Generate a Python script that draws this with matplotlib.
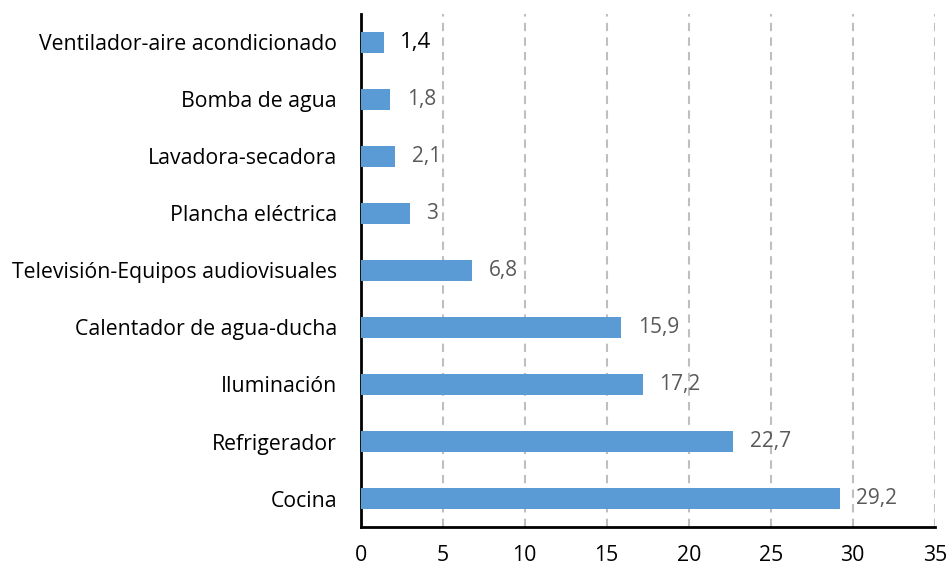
import matplotlib.pyplot as plt

plt.rcParams['font.family'] = ['Open Sans', 'DejaVu Sans']

categorias = ['Cocina', 'Refrigerador', 'Iluminación', 'Calentador de agua-ducha',
              'Televisión-Equipos audiovisuales', 'Plancha eléctrica',
              'Lavadora-secadora', 'Bomba de agua', 'Ventilador-aire acondicionado']
valores = [29.2, 22.7, 17.2, 15.9, 6.8, 3, 2.1, 1.8, 1.4]
ticks_x = [0, 5, 10, 15, 20, 25, 30, 35]

fig = plt.figure(figsize=(9.49, 5.67), dpi=100)
ax = fig.add_axes([0.380, 0.0705, 0.605, 0.905])

pos = range(len(categorias))
ax.barh(pos, valores, height=0.36, color='#5B9BD5', zorder=3)

for i, v in enumerate(valores):
    txt = f'{v:g}'.replace('.', ',')
    ultimo = i == len(valores) - 1
    ax.annotate(txt, (v, i), xytext=(12, 0), textcoords='offset points',
                va='center', ha='left', fontsize=16 if ultimo else 15,
                color='#000000' if ultimo else '#595959')

ax.set_xlim(0, 35)
ax.set_ylim(-0.5, len(categorias) - 0.5)
ax.set_xticks(ticks_x)
ax.set_yticks(list(pos))
ax.set_yticklabels(categorias)
ax.tick_params(axis='both', length=0, labelsize=15.3, colors='#000000')
ax.tick_params(axis='y', pad=17)
ax.tick_params(axis='x', pad=13)

ax.xaxis.grid(True, linestyle=(0, (4, 3)), color='#BFBFBF', linewidth=1.5, zorder=0)
ax.set_axisbelow(True)
for s in ['top', 'right']:
    ax.spines[s].set_visible(False)
for s in ['left', 'bottom']:
    ax.spines[s].set_linewidth(2)
    ax.spines[s].set_color('#000000')

fig.savefig('out.png', dpi=100)
